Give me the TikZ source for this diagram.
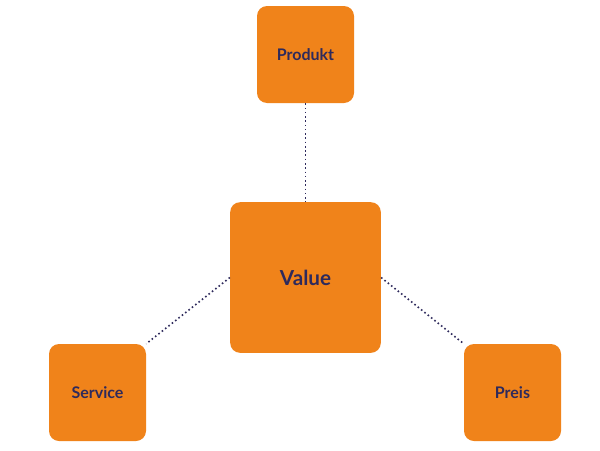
\documentclass[tikz,border=0pt]{standalone}
\usepackage{fontspec}
\setmainfont{Lato}
\usetikzlibrary{positioning}
\definecolor{boxorange}{HTML}{F0831A}
\definecolor{textnavy}{HTML}{2E2A5C}
\tikzset{
  box/.style={fill=boxorange, draw=none, rounded corners=7.5pt, minimum size=72.75pt,
    text=textnavy, font=\bfseries\fontsize{12}{14}\selectfont, inner sep=0pt},
  bigbox/.style={box, minimum size=113pt, font=\bfseries\fontsize{15.5}{18}\selectfont},
  link/.style={draw=textnavy, line width=1.2pt, dotted}
}
\begin{document}
\begin{tikzpicture}[x=0.75pt,y=-0.75pt]
  \useasboundingbox (0,0) rectangle (600,450);
  \draw
    (305.5,54.5) node[box] (produkt){Produkt}
    (305.5,277.5) node[bigbox] (value){Value}
    (97.5,392.5) node[box] (service){Service}
    (512.5,392.5) node[box] (preis){Preis};
  \begin{scope}[link]
    \draw (produkt) to (value);
    \draw (value.west) to (service.north east);
    \draw (value.east) to (preis.north west);
  \end{scope}
\end{tikzpicture}
\end{document}
